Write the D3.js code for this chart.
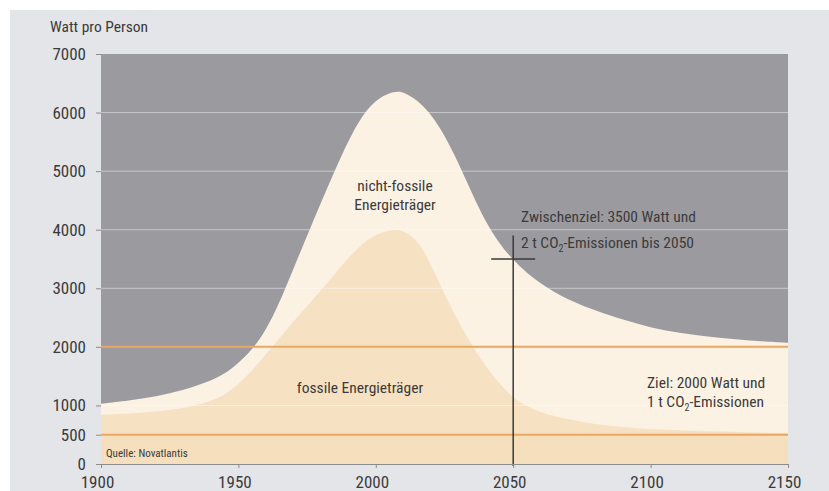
<!DOCTYPE html>
<html><head><meta charset="utf-8">
<script src="https://cdn.jsdelivr.net/npm/d3@7"></script>
<style>
html,body{margin:0;padding:0;background:#fff;}
svg{display:block;}
text{font-family:"Liberation Sans Narrow","Arial Narrow","Roboto Condensed",Roboto,sans-serif;fill:#3b3a3a;}
</style></head><body>
<svg id="chart" width="829" height="491"></svg>
<script>
// ---- data ----
const totalYears  = [1900,1910,1920,1930,1940,1945,1950,1955,1960,1965,1970,1975,1980,1985,1990,1995,2000,2005,2008,2010,2015,2020,2025,2030,2035,2040,2045,2050,2055,2060,2065,2070,2075,2080,2090,2100,2110,2120,2130,2140,2150];
const totalValues = [1030,1080,1150,1260,1420,1540,1720,1950,2280,2760,3330,3900,4460,5000,5520,5950,6220,6340,6360,6350,6220,5980,5620,5150,4620,4130,3760,3480,3260,3080,2930,2810,2710,2620,2460,2330,2240,2180,2130,2095,2070];
const fossilYears  = [1900,1910,1920,1930,1940,1945,1950,1955,1960,1965,1970,1975,1980,1985,1990,1995,2000,2005,2008,2010,2015,2020,2025,2030,2035,2040,2045,2050,2055,2060,2070,2080,2090,2100,2120,2150];
const fossilValues = [840,860,890,950,1070,1180,1360,1600,1870,2150,2430,2700,2960,3240,3520,3760,3920,3995,4000,3980,3840,3420,2900,2430,2030,1660,1370,1130,980,880,760,680,630,595,560,530];
const yTicks = [0,500,1000,2000,3000,4000,5000,6000,7000];
const gridValues = [1000,2000,3000,4000,5000,6000];
const xTicks = [1900,1950,2000,2050,2100,2150];
const targetLines = [2000,500];
const milestone = {year:2050, value:3500, top:3900, halfWidth:8};

// ---- drawing ----
const svg = d3.select("#chart");
const x = d3.scaleLinear().domain([1900,2150]).range([101,788]);
const y = d3.scaleLinear().domain([0,7000]).range([464,54]);

svg.append("rect").attr("x",10).attr("y",10).attr("width",819).attr("height",481).attr("fill","#e4e5e9");

svg.append("rect").attr("x",x(1900)).attr("y",y(7000))
  .attr("width",x(2150)-x(1900)).attr("height",y(0)-y(7000)).attr("fill","#9b9a9f");

const area = d3.area().x(d=>x(d[0])).y0(y(0)).y1(d=>y(d[1])).curve(d3.curveBasis);
svg.append("path").datum(totalYears.map((t,i)=>[t,totalValues[i]])).attr("d",area).attr("fill","#fcf2e4");
svg.append("path").datum(fossilYears.map((t,i)=>[t,fossilValues[i]])).attr("d",area).attr("fill","#f6e1c2");
svg.append("rect").attr("x",x(1900)).attr("y",y(500)).attr("width",x(2150)-x(1900)).attr("height",y(0)-y(500)).attr("fill","#f6dfbd");

svg.append("g").selectAll("line").data(gridValues).join("line")
  .attr("x1",x(1900)).attr("x2",x(2150)).attr("y1",d=>y(d)).attr("y2",d=>y(d))
  .attr("stroke","#fff").attr("stroke-opacity",0.45).attr("stroke-width",1);

svg.append("g").selectAll("line").data(targetLines).join("line")
  .attr("x1",x(1900)).attr("x2",x(2150)).attr("y1",d=>y(d)).attr("y2",d=>y(d))
  .attr("stroke","#e9a762").attr("stroke-width",2);

// milestone cross
svg.append("line").attr("x1",x(milestone.year)).attr("x2",x(milestone.year))
  .attr("y1",y(milestone.top)).attr("y2",y(0)+2).attr("stroke","#3a3a3a").attr("stroke-width",1.5);
svg.append("line").attr("x1",x(milestone.year-milestone.halfWidth)).attr("x2",x(milestone.year+milestone.halfWidth))
  .attr("y1",y(milestone.value)).attr("y2",y(milestone.value)).attr("stroke","#3a3a3a").attr("stroke-width",1.5);

// axes
const yAxis = svg.append("g").attr("transform",`translate(${x(1900)},0)`)
  .call(d3.axisLeft(y).tickValues(yTicks).tickSize(5).tickPadding(10).tickFormat(d3.format("d")));
yAxis.select(".domain").remove();
yAxis.selectAll(".tick line").attr("stroke","#8c8c8c");
yAxis.selectAll("text").attr("font-size",17).attr("fill","#3b3a3a");

const xAxis = svg.append("g").attr("transform",`translate(0,${y(0)})`)
  .call(d3.axisBottom(x).tickValues(xTicks).tickSize(4).tickPadding(8).tickFormat(d3.format("d")));
xAxis.select(".domain").attr("stroke","#8c8c8c");
xAxis.selectAll(".tick line").attr("stroke","#8c8c8c");
xAxis.selectAll("text").attr("font-size",17).attr("fill","#3b3a3a").attr("dx",-4);
svg.selectAll("g").attr("font-family",null);

// texts
const fs = 15.5;
svg.append("text").attr("x",50).attr("y",32).attr("font-size",fs).text("Watt pro Person");
svg.append("text").attr("x",106).attr("y",457).attr("font-size",11).text("Quelle: Novatlantis");
svg.append("text").attr("x",395).attr("y",191).attr("font-size",fs).attr("text-anchor","middle").text("nicht-fossile");
svg.append("text").attr("x",395).attr("y",210).attr("font-size",fs).attr("text-anchor","middle").text("Energieträger");
svg.append("text").attr("x",360).attr("y",393).attr("font-size",fs).attr("text-anchor","middle").text("fossile Energieträger");

svg.append("text").attr("x",521).attr("y",222).attr("font-size",fs).text("Zwischenziel: 3500 Watt und");
const t2 = svg.append("text").attr("x",521).attr("y",248).attr("font-size",fs);
t2.append("tspan").text("2 t CO");
t2.append("tspan").attr("font-size",10).attr("dy",4).text("2");
t2.append("tspan").attr("dy",-4).text("-Emissionen bis 2050");

svg.append("text").attr("x",647).attr("y",388).attr("font-size",fs).text("Ziel: 2000 Watt und");
const t3 = svg.append("text").attr("x",647).attr("y",407).attr("font-size",fs);
t3.append("tspan").text("1 t CO");
t3.append("tspan").attr("font-size",10).attr("dy",4).text("2");
t3.append("tspan").attr("dy",-4).text("-Emissionen");
</script>
</body></html>
